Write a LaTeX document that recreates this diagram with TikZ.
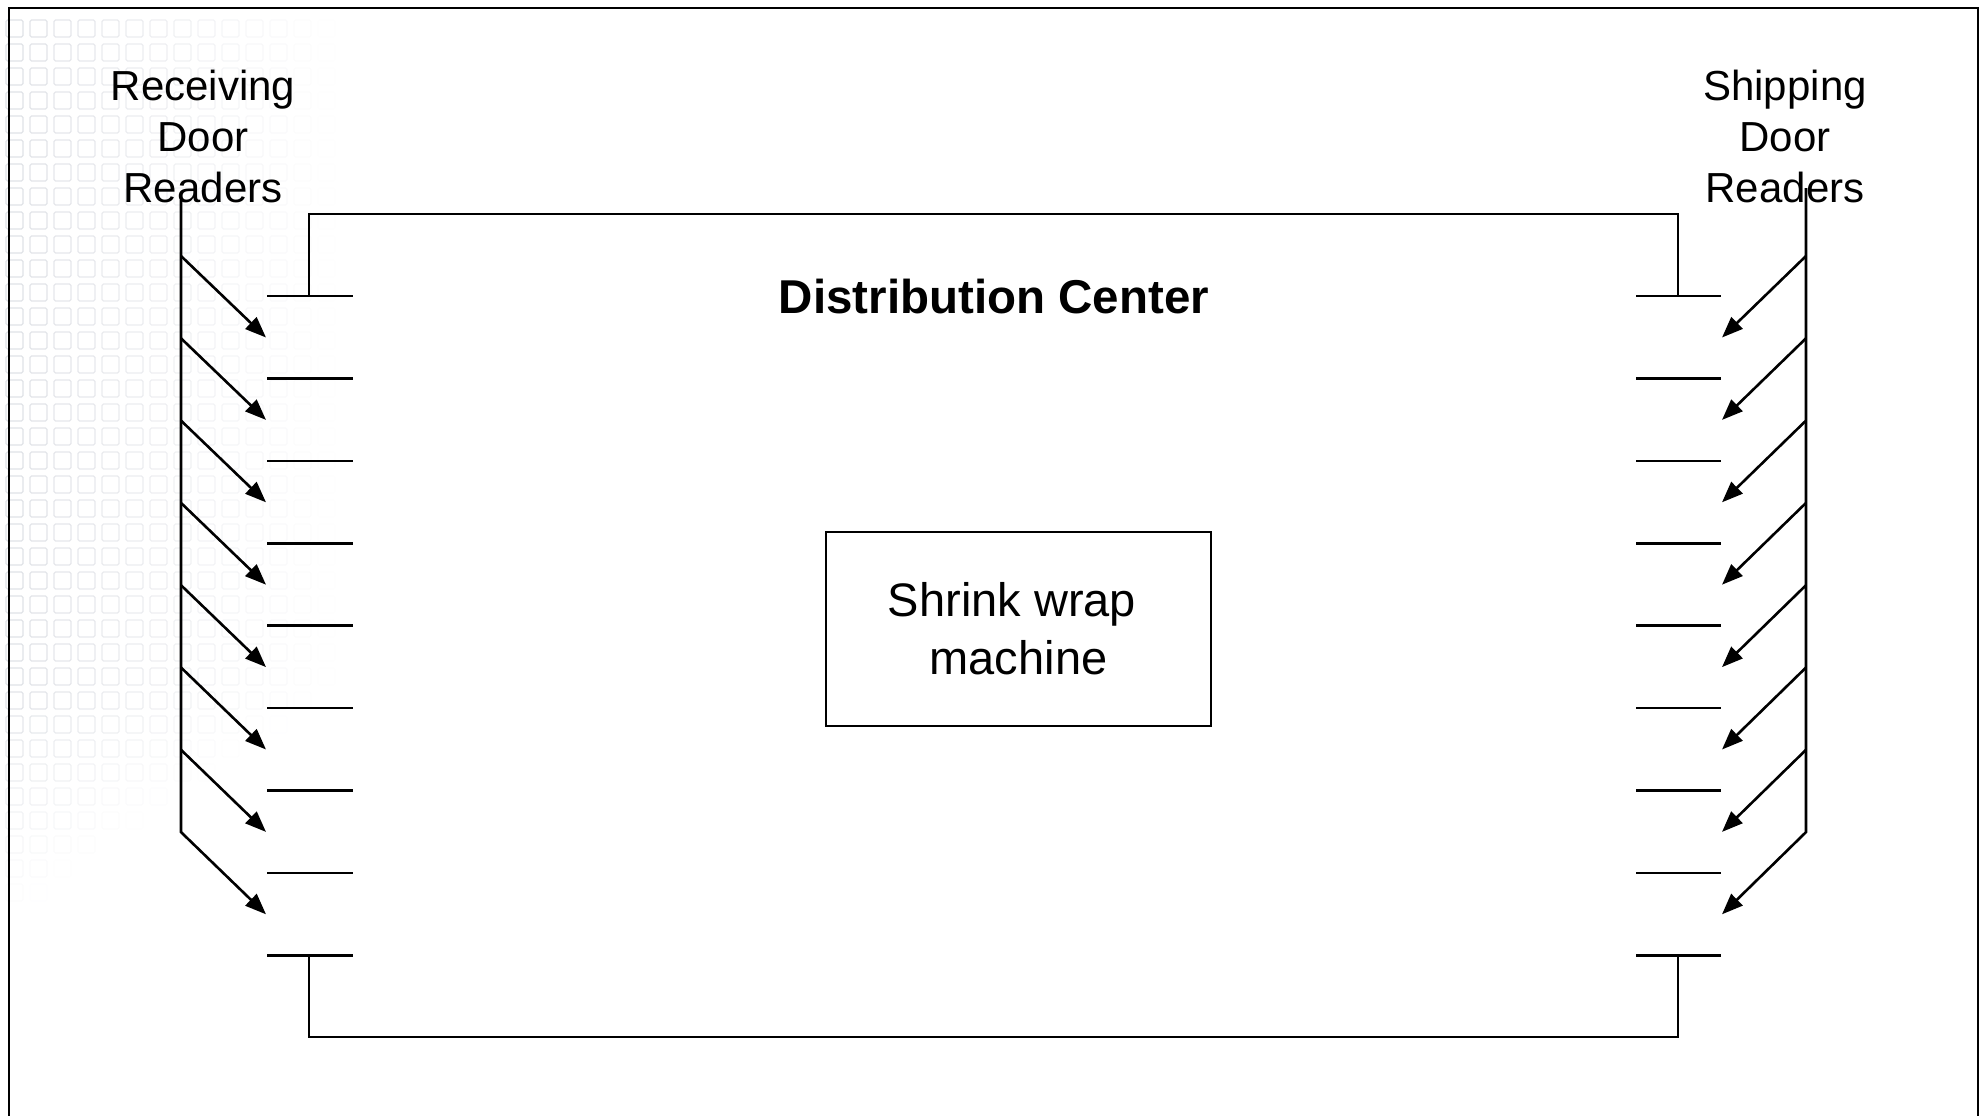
\documentclass[tikz,border=0pt]{standalone}
\usepackage{fontspec}
\setmainfont{Liberation Sans}
\usetikzlibrary{arrows.meta}
\definecolor{tilegrey}{RGB}{184,189,200}

\begin{document}
\begin{tikzpicture}[x=1pt,y=-1pt,
  wire/.style={line width=2.6pt},
  frameline/.style={line width=2.8pt},
  feed/.style={wire,-{Triangle[length=21pt,width=16pt]}},
  doorlbl/.style={align=center,inner sep=0pt,font=\fontsize{42}{50.6}\selectfont},
  titlelbl/.style={inner sep=0pt,font=\fontsize{47.5}{57}\selectfont\bfseries},
  machinebox/.style={draw,line width=2.6pt,minimum width=385pt,minimum height=194pt,
    inner sep=0pt,align=center,font=\fontsize{47}{58}\selectfont}]
\useasboundingbox (0,0) rectangle (1986,1116);

% faint tiled backdrop of the slide, fading to the right and downwards
\foreach \i in {0,...,14}{
  \foreach \j in {0,...,37}{
    \pgfmathsetmacro\tx{6+24*\i}
    \pgfmathsetmacro\ty{20+24*\j}
    \pgfmathsetmacro\op{0.45*max(0,min(1,1-\tx/330-max(0,(\ty-680)/230)))}
    \draw[tilegrey,line width=1.3pt,opacity=\op,rounded corners=1.5pt]
      (\tx,\ty) rectangle +(17,17);
  }
}

% outer frame
\draw[frameline] (9,1130) -- (9,8) -- (1978,8) -- (1978,1130);

% labels (anchored at the baseline of their last line)
\node[doorlbl,anchor=base] (recv) at (203,202) {Receiving\\Door\\Readers};
\node[doorlbl,anchor=base] (ship) at (1785,202) {Shipping\\Door\\Readers};
\node[titlelbl,anchor=base] (dc) at (994,313) {Distribution Center};
\node[machinebox] (sw) at (1018.5,629) {Shrink wrap\kern13pt\\machine};

% dock doors on both walls
\foreach \k in {0,...,8}{
  \pgfmathsetmacro\yy{296+82.4*\k}
  \coordinate (ldA\k) at (267,\yy);
  \coordinate (ldB\k) at (353,\yy);
  \coordinate (rdA\k) at (1636,\yy);
  \coordinate (rdB\k) at (1721,\yy);
  \draw[wire] (ldA\k) -- (ldB\k);
  \draw[wire] (rdA\k) -- (rdB\k);
}

% building walls
\coordinate (bTL) at (309,214);
\coordinate (bTR) at (1678,214);
\coordinate (bBL) at (309,1037);
\coordinate (bBR) at (1678,1037);
\draw[wire] (bTL |- ldA0) -- (bTL) -- (bTR) -- (bTR |- rdA0);
\draw[wire] (bBL |- ldA8) -- (bBL) -- (bBR) -- (bBR |- rdA8);

% reader feed points
\foreach \k in {0,...,7}{
  \pgfmathsetmacro\ys{256+82.3*\k}
  \pgfmathsetmacro\yt{337.5+82.4*\k}
  \coordinate (lrS\k) at (181,\ys);
  \coordinate (lrT\k) at (266,\yt);
  \coordinate (rrS\k) at (1806,\ys);
  \coordinate (rrT\k) at (1722,\yt);
}
\coordinate (lrTop) at (181,200);
\coordinate (rrTop) at (1806,188);

% reader feeds: receiving side
\draw[feed] (lrTop) -- (lrS7) -- (lrT7);
\foreach \k in {0,...,6}{\draw[feed] (lrS\k) -- (lrT\k);}

% reader feeds: shipping side
\draw[feed] (rrTop) -- (rrS7) -- (rrT7);
\foreach \k in {0,...,6}{\draw[feed] (rrS\k) -- (rrT\k);}
\end{tikzpicture}
\end{document}
